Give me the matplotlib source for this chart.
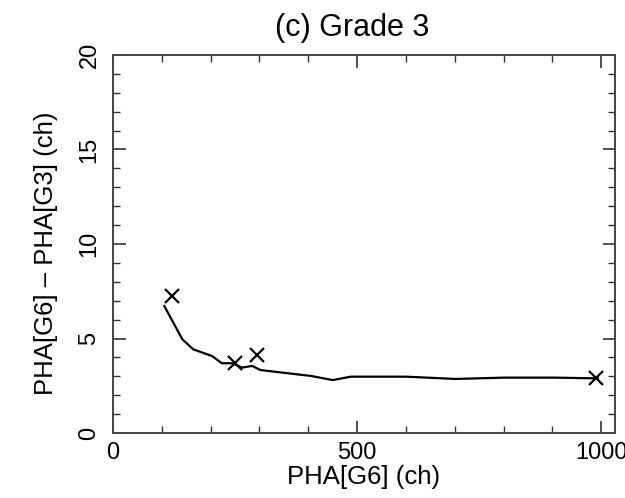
import numpy as np
import matplotlib
matplotlib.use("Agg")
import matplotlib.pyplot as plt
from matplotlib.ticker import MultipleLocator

plt.rcParams['font.family'] = ['Liberation Sans', 'DejaVu Sans']

# curve: PHA[G6] vs PHA[G6]-PHA[G3]
line_x = [105, 142, 164, 203, 223, 244, 264, 285, 302, 405, 450, 487, 600, 702, 801, 904, 993]
line_y = [6.72, 4.96, 4.43, 4.07, 3.69, 3.69, 3.46, 3.55, 3.33, 3.02, 2.80, 2.98, 2.98, 2.86, 2.93, 2.93, 2.89]

# measured points
pts_x = [120, 250, 295, 990]
pts_y = [7.27, 3.69, 4.13, 2.93]

fig = plt.figure(figsize=(6.25, 4.98), dpi=100)
ax = fig.add_axes([113/625, 1 - 433/498, (615-113)/625, (433-55)/498])

ax.plot(line_x, line_y, color='black', lw=1.6)
ax.plot(pts_x, pts_y, 'x', color='black', ms=10, mew=1.6)

ax.set_xlim(0, 1028)
ax.set_ylim(0, 20)
ax.xaxis.set_major_locator(MultipleLocator(500))
ax.xaxis.set_minor_locator(MultipleLocator(100))
ax.yaxis.set_major_locator(MultipleLocator(5))
ax.yaxis.set_minor_locator(MultipleLocator(1))
ax.tick_params(which='both', direction='in', top=True, right=True, color='#333333')
ax.tick_params(which='major', length=9, width=1.2, labelsize=17)
ax.tick_params(axis='x', which='major', pad=6.5)
ax.tick_params(axis='y', which='major', pad=9)
for lab in ax.get_yticklabels():
    lab.set_rotation(90)
    lab.set_va('center')
ax.tick_params(which='minor', length=5, width=1.0)
for sp in ax.spines.values():
    sp.set_color('#444444')
    sp.set_linewidth(1.4)

ax.set_xlabel('PHA[G6] (ch)', fontsize=18.5)
ax.set_ylabel('PHA[G6] \u2013 PHA[G3] (ch)', fontsize=18.5)
ax.xaxis.set_label_coords(0.5, -0.085)
ax.yaxis.set_label_coords(-0.11, 0.475)
fig.text(352/625, 1 - 28/498, '(c) Grade 3', fontsize=22, ha='center', va='center')

fig.savefig('out.png', dpi=100)
